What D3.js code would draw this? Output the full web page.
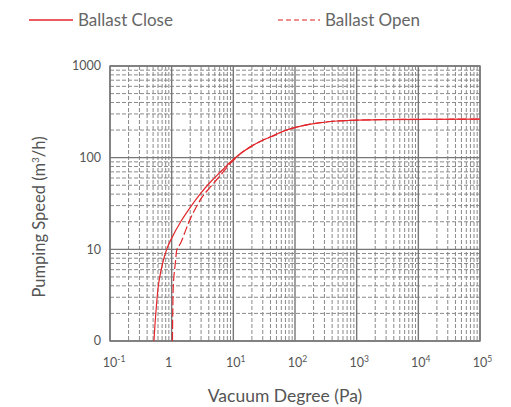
<!DOCTYPE html>
<html><head><meta charset="utf-8">
<script src="https://cdn.jsdelivr.net/npm/d3@7/dist/d3.min.js"></script>
<style>
html,body{margin:0;padding:0;background:#fff;}
svg{display:block;font-family:Lato,"Open Sans",sans-serif;}
</style></head>
<body>
<svg id="chart" width="511" height="407"></svg>
<script>
// ---- data ----
const seriesNames = ["Ballast Close", "Ballast Open"];
const closePressure = [0.516, 0.55, 0.62, 0.734, 0.83, 0.964, 1.4, 2.03, 2.95, 4.29, 6.22, 9.04, 13.1, 19.2, 28.2, 41.5, 63, 98.5, 179, 377, 794, 2440, 100000];
const closeSpeed    = [1, 1.9, 4.4, 7.6, 10, 12.6, 20, 29.1, 40.8, 54.6, 70.2, 90.2, 111, 132, 152, 170, 193, 213, 232, 248, 255, 260, 263];
const openPressure  = [1.03, 1.04, 1.07, 1.16, 1.22, 1.4, 1.69, 2.03, 2.61, 3.15, 4.29, 6.22, 9.04, 11.6, 13.1, 19.2, 28.2, 41.5, 63, 98.5, 179, 377, 794, 2440, 100000];
const openSpeed     = [1, 1.9, 4.4, 7.6, 10, 11.7, 16.2, 21.9, 30.4, 37.5, 48.2, 64.6, 87.3, 102, 111, 132, 152, 170, 193, 213, 232, 248, 255, 260, 263];
const xTickValues = [0.1, 1, 10, 100, 1000, 10000, 100000];
const xTickBase   = ["10", "1", "10", "10", "10", "10", "10"];
const xTickExp    = ["-1", "", "1", "2", "3", "4", "5"];
const yTickValues = [1, 10, 100, 1000];
const yTickLabels = ["0", "10", "100", "1000"];

// ---- layout ----
const svg = d3.select("#chart");
const L = 110, R = 480, T = 66, B = 341;
const x = d3.scaleLog().domain([0.1, 100000]).range([L, R]);
const y = d3.scaleLog().domain([1, 1000]).range([B, T]);
const red = "#e3262b";

// minor grid
const g = svg.append("g");
const xMinor = [], yMinor = [];
for (let e = -1; e < 5; e++) for (let k = 2; k <= 9; k++) xMinor.push(k * Math.pow(10, e));
for (let e = 0; e < 3; e++) for (let k = 2; k <= 9; k++) yMinor.push(k * Math.pow(10, e));
g.selectAll(".vx").data(xMinor).enter().append("line")
  .attr("x1", d => x(d)).attr("x2", d => x(d)).attr("y1", T).attr("y2", B)
  .attr("stroke", "#8a8a8a").attr("stroke-width", 1).attr("stroke-dasharray", "4,2");
g.selectAll(".hy").data(yMinor).enter().append("line")
  .attr("y1", d => y(d)).attr("y2", d => y(d)).attr("x1", L).attr("x2", R)
  .attr("stroke", "#8a8a8a").attr("stroke-width", 1).attr("stroke-dasharray", "4,2");
// major grid
g.selectAll(".mx").data(xTickValues).enter().append("line")
  .attr("x1", d => x(d)).attr("x2", d => x(d)).attr("y1", T).attr("y2", B)
  .attr("stroke", "#777").attr("stroke-width", 1.4);
g.selectAll(".my").data(yTickValues).enter().append("line")
  .attr("y1", d => y(d)).attr("y2", d => y(d)).attr("x1", L).attr("x2", R)
  .attr("stroke", "#777").attr("stroke-width", 1.4);
svg.append("rect").attr("x", L).attr("y", T).attr("width", R - L).attr("height", B - T)
  .attr("fill", "none").attr("stroke", "#777").attr("stroke-width", 1.4);

// curves
const line = d3.line().x(d => x(d[0])).y(d => y(d[1])).curve(d3.curveCatmullRom.alpha(0.5));
const closeData = closePressure.map((p, i) => [p, closeSpeed[i]]);
const openData = openPressure.map((p, i) => [p, openSpeed[i]]);
svg.append("path").attr("d", line(openData)).attr("fill", "none")
  .attr("stroke", red).attr("stroke-width", 1.2).attr("stroke-dasharray", "9,3");
svg.append("path").attr("d", line(closeData)).attr("fill", "none")
  .attr("stroke", red).attr("stroke-width", 1.2);

// y tick labels
svg.selectAll(".yl").data(yTickValues).enter().append("text")
  .attr("x", 101).attr("y", d => y(d)).attr("dy", "0.35em")
  .attr("text-anchor", "end").attr("font-size", 12.5).attr("fill", "#555")
  .text((d, i) => yTickLabels[i]);

// x tick labels
const xl = svg.selectAll(".xl").data(xTickValues).enter().append("text")
  .attr("y", 367).attr("font-size", 12.5).attr("fill", "#555")
  .attr("text-anchor", "start");
xl.each(function(d, i) {
  const t = d3.select(this);
  t.append("tspan").text(xTickBase[i]);
  if (xTickExp[i]) t.append("tspan").attr("font-size", 8.5).attr("dy", -5).text(xTickExp[i]);
  const base = this.firstChild.getComputedTextLength();
  t.attr("x", x(d) - base / 2 - (xTickExp[i] ? 0 : 3));
});

// axis titles
svg.append("text").attr("x", 285).attr("y", 402).attr("text-anchor", "middle")
  .attr("font-size", 17.5).attr("fill", "#555").text("Vacuum Degree (Pa)");
const yt = svg.append("text").attr("transform", "translate(45,217) rotate(-90)")
  .attr("text-anchor", "middle").attr("font-size", 16.5).attr("fill", "#555");
yt.append("tspan").text("Pumping Speed (m");
yt.append("tspan").attr("font-size", 10).attr("dy", -6).text("3");
yt.append("tspan").attr("dy", 6).text("/h)");

// legend
const legend = [
  {x1: 29, x2: 73, tx: 78, dash: null, color: red},
  {x1: 278, x2: 320, tx: 325, dash: "5,3", color: "#e86a6d"}
];
legend.forEach((lg, i) => {
  svg.append("line").attr("x1", lg.x1).attr("x2", lg.x2).attr("y1", 20).attr("y2", 20)
    .attr("stroke", lg.color).attr("stroke-width", 1.6).attr("stroke-dasharray", lg.dash);
  svg.append("text").attr("x", lg.tx).attr("y", 26).attr("font-size", 17).attr("fill", "#666")
    .text(seriesNames[i]);
});
</script>
</body></html>
